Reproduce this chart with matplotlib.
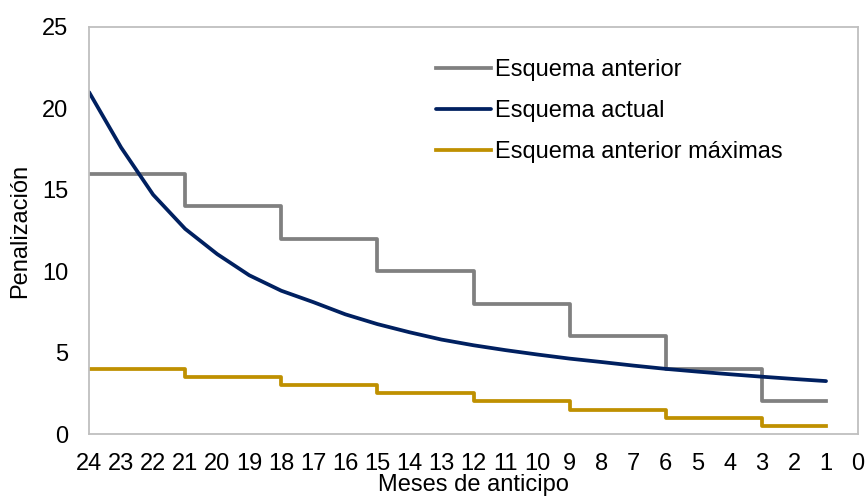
import matplotlib
matplotlib.use('Agg')
import matplotlib.pyplot as plt

plt.rcParams['font.family'] = ['Liberation Sans', 'DejaVu Sans']

MONTHS = list(range(24, 0, -1))
ESQUEMA_ANTERIOR = [16, 16, 16, 14, 14, 14, 12, 12, 12, 10, 10, 10,
                    8, 8, 8, 6, 6, 6, 4, 4, 4, 2, 2, 2]
ESQUEMA_ACTUAL = [21.0, 17.6, 14.7, 12.6, 11.05, 9.75, 8.8, 8.1, 7.35, 6.75, 6.25, 5.8,
                  5.45, 5.15, 4.88, 4.63, 4.42, 4.2, 4.0, 3.83, 3.67, 3.52, 3.38, 3.25]
ANTERIOR_MAXIMAS = [4, 4, 4, 3.5, 3.5, 3.5, 3, 3, 3, 2.5, 2.5, 2.5,
                    2, 2, 2, 1.5, 1.5, 1.5, 1, 1, 1, 0.5, 0.5, 0.5]
X_TICKS = list(range(24, -1, -1))
Y_TICKS = [0, 5, 10, 15, 20, 25]

COLORS = {
    'anterior': '#808080',
    'actual': '#002060',
    'maximas': '#BF9000',
}


def plot():
    fig = plt.figure(figsize=(8.67, 4.98), dpi=100)
    ax = fig.add_axes([0.1027, 0.1285, 0.887, 0.8173])

    ax.plot(MONTHS, ESQUEMA_ANTERIOR, drawstyle='steps-post', color=COLORS['anterior'],
            lw=2.7, label='Esquema anterior')
    ax.plot(MONTHS, ESQUEMA_ACTUAL, color=COLORS['actual'], lw=2.7,
            label='Esquema actual', solid_capstyle='round', solid_joinstyle='round')
    ax.plot(MONTHS, ANTERIOR_MAXIMAS, drawstyle='steps-post', color=COLORS['maximas'],
            lw=2.7, label='Esquema anterior máximas')

    ax.set_xlim(24, 0)
    ax.set_ylim(0, 25)
    ax.set_xticks(X_TICKS)
    ax.set_yticks(Y_TICKS)
    ax.tick_params(length=0, labelsize=17, colors='black')
    ax.tick_params(axis='x', pad=14)
    ax.tick_params(axis='y', pad=15)

    for side in ['left', 'bottom', 'top', 'right']:
        ax.spines[side].set_color('#BFBFBF')
        ax.spines[side].set_linewidth(1.3)

    ax.set_xlabel('Meses de anticipo', fontsize=17, labelpad=-1)
    ax.set_ylabel('Penalización', fontsize=17, labelpad=8)

    ax.legend(loc='upper left', bbox_to_anchor=(0.424, 0.973), frameon=False,
              fontsize=17, handlelength=2.3, handletextpad=0.2, labelspacing=0.8)

    fig.savefig('out.png', dpi=100)


if __name__ == '__main__':
    plot()
